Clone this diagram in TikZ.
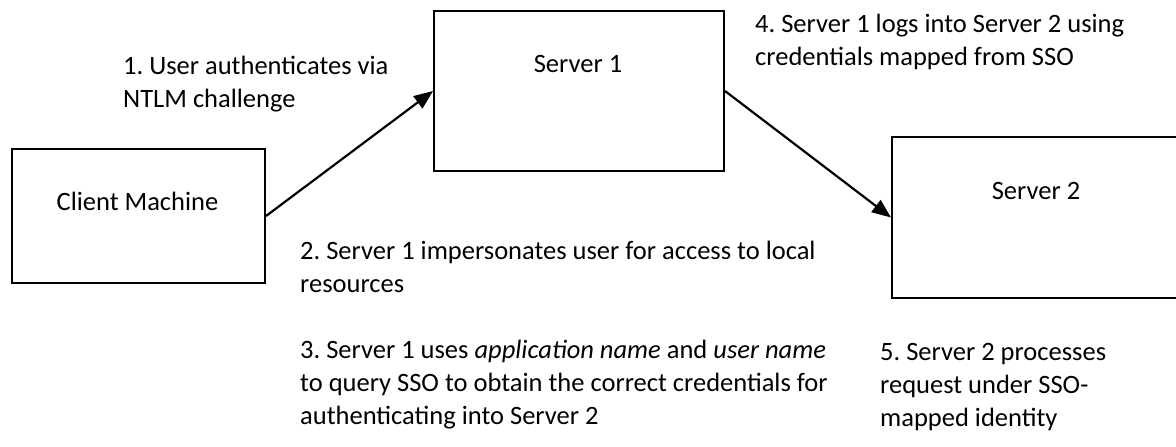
\documentclass[tikz,border=0pt]{standalone}
\usepackage{fontspec}
\setmainfont{Carlito}
\usetikzlibrary{arrows.meta}
\frenchspacing
\begin{document}
\begin{tikzpicture}[x=1pt,y=-1pt,
  box/.style={draw, line width=2pt, inner sep=0pt, anchor=north west},
  txt/.style={font=\frenchspacing\fontsize{26.5}{33}\selectfont, inner sep=0pt, anchor=base west, align=left},
  lbl/.style={font=\fontsize{26.5}{33}\selectfont, inner sep=0pt, anchor=base},
  conn/.style={line width=2.2pt, -{Triangle[length=19pt,width=15pt]}}]
\useasboundingbox (0,0) rectangle (1176,447);
\node[box, minimum width=253pt, minimum height=134pt] (client) at (11,148) {};
\node[box, minimum width=290pt, minimum height=160pt] (s1) at (433,10) {};
\node[box, minimum width=290pt, minimum height=161pt] (s2) at (891,136) {};
\node[lbl] (clientt) at (137.5,210) {Client Machine};
\node[lbl] (s1t) at (578,72) {Server 1};
\node[lbl] (s2t) at (1036,199) {Server 2};
\draw[conn] (client.east) -- (s1.west);
\draw[conn] (s1.east) -- (s2.west);
\node[txt] (t1) at (123,107) {1. User authenticates via\\NTLM challenge};
\node[txt] (t4) at (755,65) {4. Server 1 logs into Server 2 using\\credentials mapped from SSO};
\node[txt] (t2) at (300,292) {2. Server 1 impersonates user for access to local\\resources};
\node[txt] (t3) at (300,424) {3. Server 1 uses \textit{application name} and \textit{user name}\\to query SSO to obtain the correct credentials for\\authenticating into Server 2};
\node[txt] (t5) at (880,426) {5. Server 2 processes\\request under SSO-\\mapped identity};
\end{tikzpicture}
\end{document}
